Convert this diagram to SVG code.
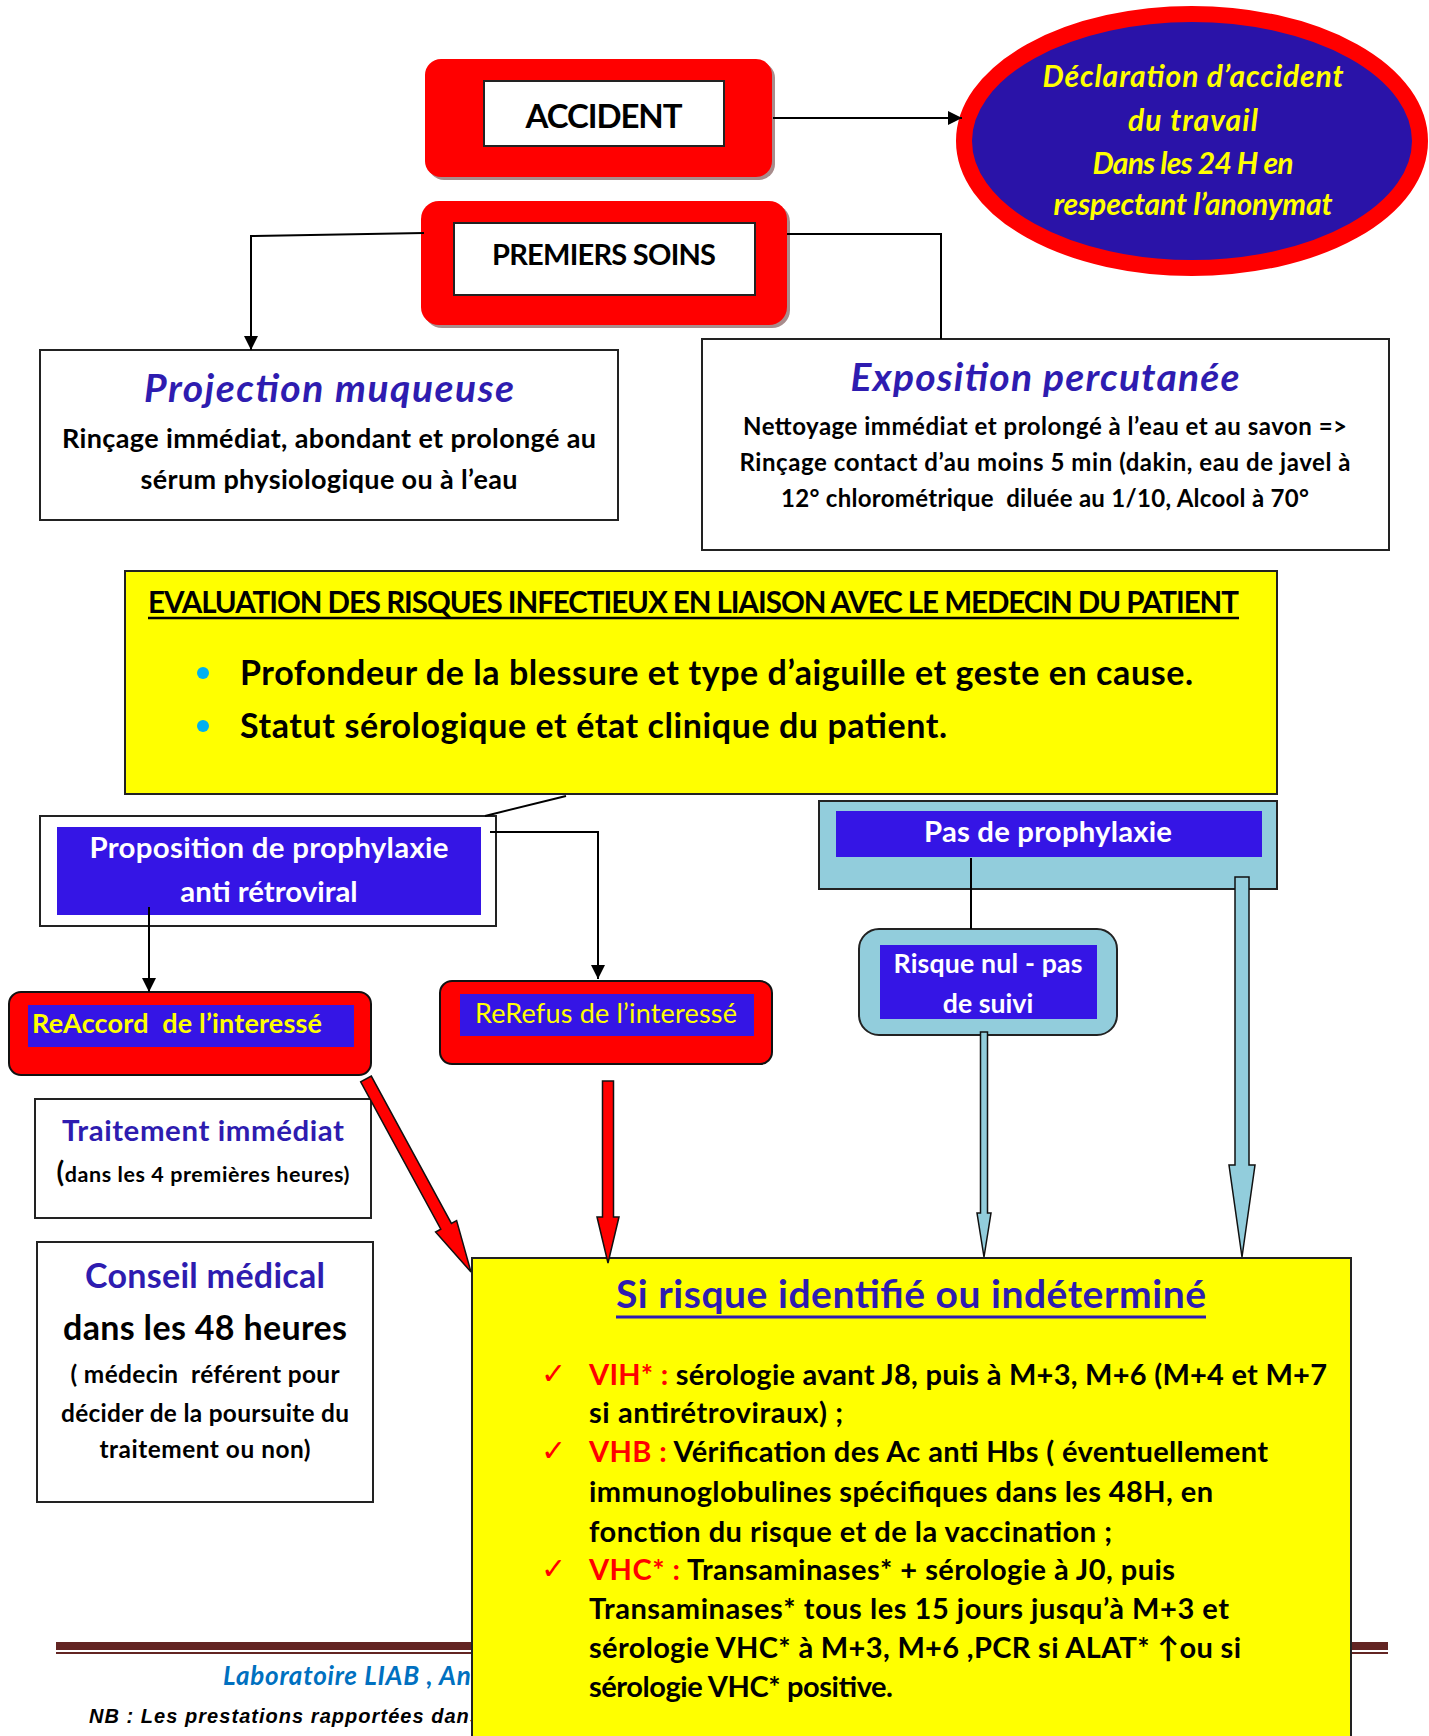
<svg xmlns="http://www.w3.org/2000/svg" width="1429" height="1736" viewBox="0 0 1429 1736">
<defs>
<style>
text{font-family:Lato,"Liberation Sans",sans-serif;font-weight:bold;fill:#000;}
.c{text-anchor:middle;}
.it{font-style:italic;}
.blue{fill:#2E1CB0;}
.wh{fill:#fff;}
.yl{fill:#ffff00;}
.red{fill:#ff0000;}
.pre{white-space:pre;}
.chk{font-family:'DejaVu Sans',sans-serif;font-weight:normal;fill:#ff0000;}
.conn{stroke:#000;stroke-width:2;fill:none;}
.redbox{fill:#ff0000;}
.redb{fill:#ff0000;stroke:#111;stroke-width:2;}
.shadow{fill:#a88c8c;}
.ibox{fill:#3515E5;}
.lb{fill:#92CDDC;stroke:#222;stroke-width:2;}
.frame{fill:#fff;stroke:#222;stroke-width:2;}
.ybox{fill:#ffff00;stroke:#222;stroke-width:2;}
.barR{fill:#ff0000;stroke:#111;stroke-width:1.5;}
.barB{fill:#92CDDC;stroke:#111;stroke-width:1.5;}
</style>
<marker id="ah" viewBox="0 0 14 14" markerWidth="14" markerHeight="14" refX="14" refY="7" orient="auto" markerUnits="userSpaceOnUse"><path d="M0,0 L14,7 L0,14 z" fill="#000"/></marker>
</defs>
<rect width="1429" height="1736" fill="#fff"/>

<g id="footer">
<rect x="56" y="1642" width="1332" height="8" fill="#632523"/>
<rect x="56" y="1652" width="1332" height="2" fill="#632523"/>
<text x="223" y="1685" font-size="26" class="it" style="fill:#0070C0" textLength="262">Laboratoire LIAB , Ana</text>
<text x="89" y="1723" font-size="20" style="font-family:'Liberation Sans',Arial,sans-serif;font-style:italic" textLength="392">NB : Les prestations rapportées dans</text>
</g>

<g id="accident">
<rect x="428" y="62" width="347" height="118" rx="16" class="shadow"/>
<rect x="425" y="59" width="347" height="118" rx="16" class="redbox"/>
<rect x="484" y="81" width="240" height="65" class="frame"/>
<text x="604" y="128" font-size="33" class="c" textLength="157">ACCIDENT</text>
</g>

<g id="declaration">
<ellipse cx="1192" cy="141" rx="228" ry="127" fill="#2A13A8" stroke="#ff0000" stroke-width="16"/>
<text x="1193" y="87" font-size="30" class="c it yl" textLength="301">Déclaration d’accident</text>
<text x="1193" y="131" font-size="30" class="c it yl" textLength="130">du travail</text>
<text x="1193" y="174" font-size="30" class="c it yl" textLength="201">Dans les 24 H en</text>
<text x="1193" y="215" font-size="30" class="c it yl" textLength="279">respectant l’anonymat</text>
</g>

<g id="premiers-soins">
<rect x="424" y="204" width="366" height="124" rx="18" class="shadow"/>
<rect x="421" y="201" width="366" height="124" rx="18" class="redbox"/>
<rect x="454" y="223" width="301" height="72" class="frame"/>
<text x="604" y="265" font-size="29" class="c" textLength="224">PREMIERS SOINS</text>
</g>

<g id="projection">
<rect x="40" y="350" width="578" height="170" class="frame"/>
<text x="329" y="402" font-size="39" class="c it blue" textLength="370">Projection muqueuse</text>
<text x="329" y="448" font-size="27" class="c" textLength="534">Rinçage immédiat, abondant et prolongé au</text>
<text x="329" y="489" font-size="27" class="c" textLength="377">sérum physiologique ou à l’eau</text>
</g>

<g id="exposition">
<rect x="702" y="339" width="687" height="211" class="frame"/>
<text x="1045" y="391" font-size="39" class="c it blue" textLength="389">Exposition percutanée</text>
<text x="1045" y="435" font-size="24" class="c" textLength="604">Nettoyage immédiat et prolongé à l’eau et au savon =&gt;</text>
<text x="1045" y="471" font-size="24" class="c" textLength="611">Rinçage contact d’au moins 5 min (dakin, eau de javel à</text>
<text x="1045" y="507" font-size="24" class="c pre" textLength="528">12° chlorométrique  diluée au 1/10, Alcool à 70°</text>
</g>

<g id="evaluation">
<rect x="125" y="571" width="1152" height="223" class="ybox"/>
<text x="148" y="613" font-size="29.5" textLength="1091">EVALUATION DES RISQUES INFECTIEUX EN LIAISON AVEC LE MEDECIN DU PATIENT</text>
<line x1="148" y1="618" x2="1239" y2="618" stroke="#000" stroke-width="2.5"/>
<circle cx="203" cy="673" r="6" fill="#00B0F0"/>
<circle cx="203" cy="726" r="6" fill="#00B0F0"/>
<text x="240" y="685" font-size="34" textLength="953">Profondeur de la blessure et type d’aiguille et geste en cause.</text>
<text x="240" y="738" font-size="34" textLength="707">Statut sérologique et état clinique du patient.</text>
</g>

<g id="proposition">
<rect x="40" y="816" width="456" height="110" class="frame"/>
<rect x="57" y="827" width="424" height="88" class="ibox"/>
<text x="269" y="858" font-size="29.4" class="c wh" textLength="359">Proposition de prophylaxie</text>
<text x="269" y="902" font-size="29.4" class="c wh">anti rétroviral</text>
</g>

<g id="accord">
<rect x="9" y="992" width="362" height="83" rx="12" class="redb"/>
<rect x="28" y="1005" width="326" height="42" class="ibox"/>
<text x="32" y="1033" font-size="27" class="yl pre" textLength="290">ReAccord  de l’interessé</text>
</g>

<g id="refus">
<rect x="440" y="981" width="332" height="83" rx="12" class="redb"/>
<rect x="460" y="994" width="294" height="42" class="ibox"/>
<text x="606" y="1023" font-size="27" class="c yl" style="font-weight:normal" textLength="262">ReRefus de l’interessé</text>
</g>

<g id="pas-prophylaxie">
<rect x="819" y="801" width="458" height="88" class="lb"/>
<rect x="836" y="811" width="426" height="46" class="ibox"/>
<text x="1048" y="842" font-size="29.3" class="c wh" textLength="248">Pas de prophylaxie</text>
</g>

<g id="risque-nul">
<rect x="859" y="929" width="258" height="106" rx="20" class="lb"/>
<rect x="880" y="945" width="217" height="74" class="ibox"/>
<text x="988" y="973" font-size="26.7" class="c wh" textLength="189">Risque nul - pas</text>
<text x="988" y="1013" font-size="26.7" class="c wh">de suivi</text>
</g>

<g id="traitement">
<rect x="35" y="1099" width="336" height="119" class="frame"/>
<text x="203" y="1141" font-size="29.4" class="c blue" textLength="282">Traitement immédiat</text>
<text x="203" y="1182" font-size="21.5" class="c" textLength="293"><tspan font-size="28">(</tspan>dans les 4 premières heures)</text>
</g>

<g id="conseil">
<rect x="37" y="1242" width="336" height="260" class="frame"/>
<text x="205" y="1288" font-size="34" class="c blue" textLength="240">Conseil médical</text>
<text x="205" y="1340" font-size="34" class="c" textLength="284">dans les 48 heures</text>
<text x="205" y="1383" font-size="24.4" class="c pre" textLength="269">( médecin  référent pour</text>
<text x="205" y="1422" font-size="24.4" class="c" textLength="288">décider de la poursuite du</text>
<text x="205" y="1458" font-size="24.4" class="c" textLength="211">traitement ou non)</text>
</g>

<g id="si-risque">
<rect x="472" y="1258" width="879" height="490" class="ybox"/>
<text x="911" y="1308" font-size="39" class="c blue" textLength="590">Si risque identifié ou indéterminé</text>
<line x1="616" y1="1317" x2="1206" y2="1317" stroke="#2E1CB0" stroke-width="3"/>
<text x="541" y="1384" font-size="30" class="chk">✓</text>
<text x="541" y="1461" font-size="30" class="chk">✓</text>
<text x="541" y="1579" font-size="30" class="chk">✓</text>
<text x="589" y="1385" font-size="29" textLength="738"><tspan class="red">VIH* :</tspan> sérologie avant J8, puis à M+3, M+6 (M+4 et M+7</text>
<text x="589" y="1423" font-size="29" textLength="254">si antirétroviraux) ;</text>
<text x="589" y="1462" font-size="29" textLength="679"><tspan class="red">VHB :</tspan> Vérification des Ac anti Hbs ( éventuellement</text>
<text x="589" y="1502" font-size="29" textLength="624">immunoglobulines spécifiques dans les 48H, en</text>
<text x="589" y="1542" font-size="29" textLength="523">fonction du risque et de la vaccination ;</text>
<text x="589" y="1580" font-size="29" textLength="586"><tspan class="red">VHC* :</tspan> Transaminases* + sérologie à J0, puis</text>
<text x="589" y="1619" font-size="29" textLength="640">Transaminases* tous les 15 jours jusqu’à M+3 et</text>
<text x="589" y="1658" font-size="29" textLength="652">sérologie VHC* à M+3, M+6 ,PCR si ALAT* ↑ou si</text>
<text x="589" y="1697" font-size="29" textLength="304">sérologie VHC* positive.</text>
</g>

<g id="connectors">
<line x1="773" y1="118" x2="962" y2="118" class="conn" marker-end="url(#ah)"/>
<path d="M424,233 L251,236 L251,350" class="conn" marker-end="url(#ah)"/>
<path d="M787,234 L941,234 L941,339" class="conn"/>
<path d="M566,796 L485,816" class="conn"/>
<path d="M490,832 L598,832 L598,979" class="conn" marker-end="url(#ah)"/>
<path d="M149,907 L149,992" class="conn" marker-end="url(#ah)"/>
<path d="M971,858 L971,929" class="conn"/>
<polygon class="barR" points="360.7,1081.9 440.8,1229.2 435.6,1232 471,1272 456.6,1220.6 451.4,1223.4 371.3,1076.1"/>
<polygon class="barR" points="602.5,1081 613.5,1081 613.5,1217 619,1217 608,1263 597,1217 602.5,1217"/>
<polygon class="barB" points="980.5,1032 987.5,1032 987.5,1213 991,1213 984,1257 977,1213 980.5,1213"/>
<polygon class="barB" points="1235,877 1249,877 1249,1165 1255,1165 1242,1257 1229,1165 1235,1165"/>
</g>
</svg>
